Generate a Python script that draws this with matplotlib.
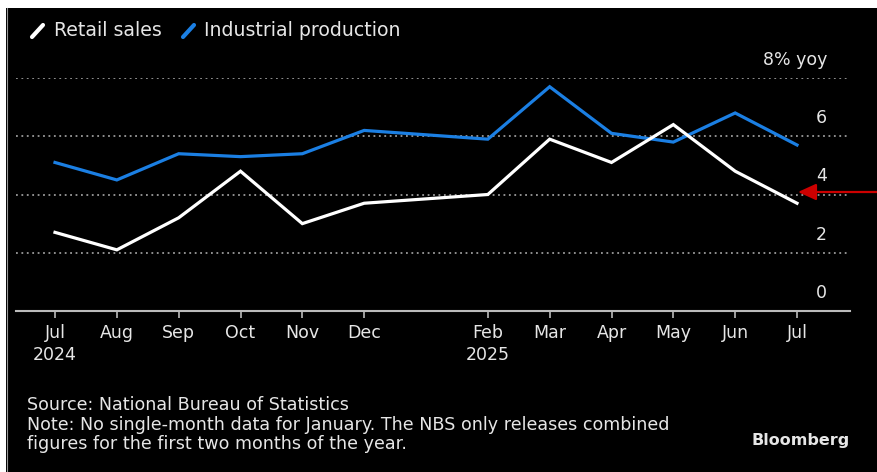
import matplotlib
matplotlib.use("Agg")
import matplotlib.pyplot as plt
from matplotlib.lines import Line2D
from matplotlib.patches import Rectangle
import matplotlib.transforms as mtransforms

# ---- data ----
months = ["2024-07", "2024-08", "2024-09", "2024-10", "2024-11", "2024-12",
          "2025-02", "2025-03", "2025-04", "2025-05", "2025-06", "2025-07"]
month_labels = ["Jul\n2024", "Aug", "Sep", "Oct", "Nov", "Dec",
                "Feb\n2025", "Mar", "Apr", "May", "Jun", "Jul"]
retail_sales = [2.7, 2.1, 3.2, 4.8, 3.0, 3.7, 4.0, 5.9, 5.1, 6.4, 4.8, 3.7]
industrial_production = [5.1, 4.5, 5.4, 5.3, 5.4, 6.2, 5.9, 7.7, 6.1, 5.8, 6.8, 5.7]
y_ticks = [0, 2, 4, 6, 8]
y_tick_labels = ["0", "2", "4", "6", "8% yoy"]

W, H = 877, 472
FONT = "DejaVu Sans"
plt.rcParams['font.family'] = [FONT]
TXT = "#e6e6e6"

def fx(px):
    return px / W

def fy(py):
    return (H - py) / H

# month offsets from the first month
def month_pos(s):
    y, m = s.split("-")
    return (int(y) - 2024) * 12 + int(m) - 7

xpos = [month_pos(m) for m in months]

fig = plt.figure(figsize=(W / 100, H / 100), dpi=100, facecolor="black")
# white frame strips (top and left) as in the reference screenshot
fig.patches.append(Rectangle((0, fy(8)), 1, 1, transform=fig.transFigure,
                             facecolor="white", edgecolor="none"))
fig.patches.append(Rectangle((0, 0), fx(6), 1, transform=fig.transFigure,
                             facecolor="white", edgecolor="none"))
fig.add_artist(Line2D([fx(6.5), fx(6.5)], [0, fy(8)], color="#999999", lw=0.8))

ax_left, ax_right = 16, 850
ax_top, ax_bottom = 78, 311
ax = fig.add_axes([fx(ax_left), fy(ax_bottom), fx(ax_right - ax_left),
                   fy(ax_top) - fy(ax_bottom)])
ax.set_facecolor("black")
ax.patch.set_alpha(0)

# x scale: Jul 2024 at px 55, Jul 2025 at px 797
step = (797 - 55) / 12
ax.set_xlim((ax_left - 55) / step, (ax_right - 55) / step)
ax.set_ylim(0, 8)

# gridlines
for v in y_ticks[1:]:
    ax.axhline(v, color="#9a9a9a", lw=1.3, linestyle=(0, (1, 2.0)), zorder=1)

ax.plot(xpos, industrial_production, color="#1b7fe3", lw=2.3, zorder=3,
        solid_joinstyle="miter", clip_on=False)
ax.plot(xpos, retail_sales, color="white", lw=2.3, zorder=4,
        solid_joinstyle="miter", clip_on=False)

for s in ["top", "left", "right"]:
    ax.spines[s].set_visible(False)
ax.spines["bottom"].set_color("#bbbbbb")
ax.spines["bottom"].set_linewidth(1.5)

ax.set_xticks(xpos)
ax.set_xticklabels(month_labels, fontsize=12.5, color=TXT,
                   linespacing=1.3, ha="center", va="top")
ax.tick_params(axis="x", length=5, width=1.2, color="#bbbbbb", pad=4)
ax.set_yticks([])

# y labels above gridlines on the right
trans = mtransforms.offset_copy(
    mtransforms.blended_transform_factory(ax.transAxes, ax.transData),
    fig=fig, x=0, y=13, units="points")
for v, lab in zip(y_ticks, y_tick_labels):
    ax.text((827 - ax_left) / (ax_right - ax_left), v, lab, transform=trans,
            ha="right", va="center", color=TXT, fontsize=12.5)

# red arrow annotation (pointing at the latest retail sales reading)
fig.add_artist(matplotlib.patches.FancyArrowPatch(
    (fx(885), fy(192)), (fx(798), fy(192)), transform=fig.transFigure,
    arrowstyle="-|>,head_length=1.1,head_width=0.5", mutation_scale=10,
    color="#cc0000", lw=1.6, shrinkA=0, shrinkB=0, zorder=6))

# legend
fig.add_artist(Line2D([fx(32), fx(43)], [fy(37), fy(25)], color="white",
                      lw=3, solid_capstyle="round"))
fig.text(fx(54), fy(31), "Retail sales", color=TXT, fontsize=13.6,
         ha="left", va="center")
fig.add_artist(Line2D([fx(183), fx(194)], [fy(37), fy(25)], color="#1b7fe3",
                      lw=3, solid_capstyle="round"))
fig.text(fx(204), fy(31), "Industrial production", color=TXT,
         fontsize=13.6, ha="left", va="center")

# footer
fig.text(fx(27), fy(405), "Source: National Bureau of Statistics",
         color=TXT, fontsize=12.6, ha="left", va="center")
fig.text(fx(27), fy(425),
         "Note: No single-month data for January. The NBS only releases combined",
         color=TXT, fontsize=12.6, ha="left", va="center")
fig.text(fx(27), fy(444), "figures for the first two months of the year.",
         color=TXT, fontsize=12.6, ha="left", va="center")
fig.text(fx(850), fy(441), "Bloomberg", color=TXT, fontsize=11.5,
         fontweight="bold", ha="right", va="center")

fig.savefig("out.png", dpi=100, facecolor="black")
